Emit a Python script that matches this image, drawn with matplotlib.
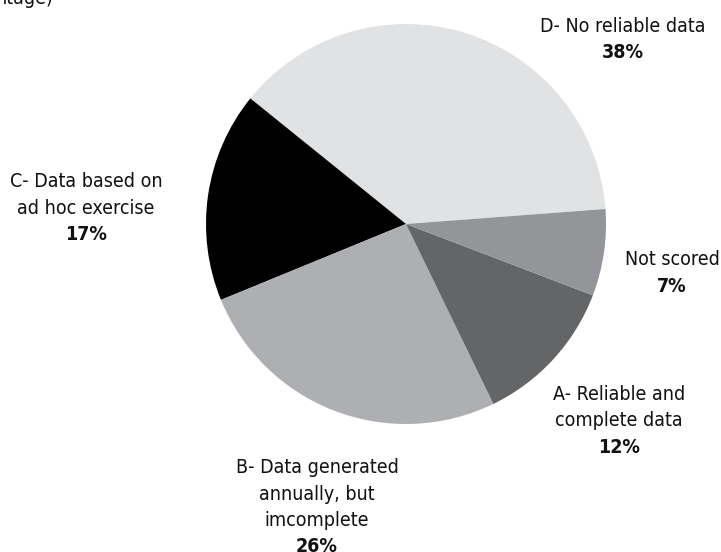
import matplotlib
matplotlib.use("Agg")
import matplotlib.pyplot as plt

# slice data, counter-clockwise from the right
categories = ["D- No reliable data", "C- Data based on ad hoc exercise",
              "B- Data generated annually, but imcomplete",
              "A- Reliable and complete data", "Not scored"]
shares = [38, 17, 26, 12, 7]
colours = ["#e1e2e4", "#000000", "#aeafb2", "#646567", "#949598"]

# label lines as printed on the chart
label_lines = [
    ["D- No reliable data"],
    ["C- Data based on", "ad hoc exercise"],
    ["B- Data generated", "annually, but", "imcomplete"],
    ["A- Reliable and", "complete data"],
    ["Not scored"],
]
pct_labels = ["38%", "17%", "26%", "12%", "7%"]

W, H = 721, 552
plt.rcParams["font.family"] = ["DejaVu Sans"]

fig = plt.figure(figsize=(W / 100, H / 100), dpi=100)

# pie centre and radius in pixels
cx, cy, r = 406, 224, 200
ax = fig.add_axes([(cx - r) / W, (H - cy - r) / H, 2 * r / W, 2 * r / H])
ax.pie(shares, colors=colours, startangle=4.3, counterclock=True,
       radius=1, wedgeprops=dict(linewidth=0))
ax.set_xlim(-1, 1)
ax.set_ylim(-1, 1)
ax.set_aspect("equal")
ax.axis("off")

# label anchor: centre x, baseline y of first line (pixels from top)
anchors = [(623, 32), (86, 187), (317, 473), (619, 400), (672, 265)]
step = 26.5

def put(x, y, s, bold=False):
    fig.text(x / W, 1 - y / H, s, ha="center", va="baseline", fontsize=14,
             fontstretch="condensed",
             fontweight="bold" if bold else "normal", color="#111111")

for (x, y), lines, pct in zip(anchors, label_lines, pct_labels):
    for i, line in enumerate(lines):
        put(x, y + i * step, line)
    put(x, y + len(lines) * step, pct, bold=True)

# remains of the clipped heading at the top left
fig.text(53 / W, 1 - 4 / H, "ntage)", ha="right", va="baseline",
         fontsize=14, fontstretch="condensed", color="#111111")

fig.savefig("out.png", dpi=100)
